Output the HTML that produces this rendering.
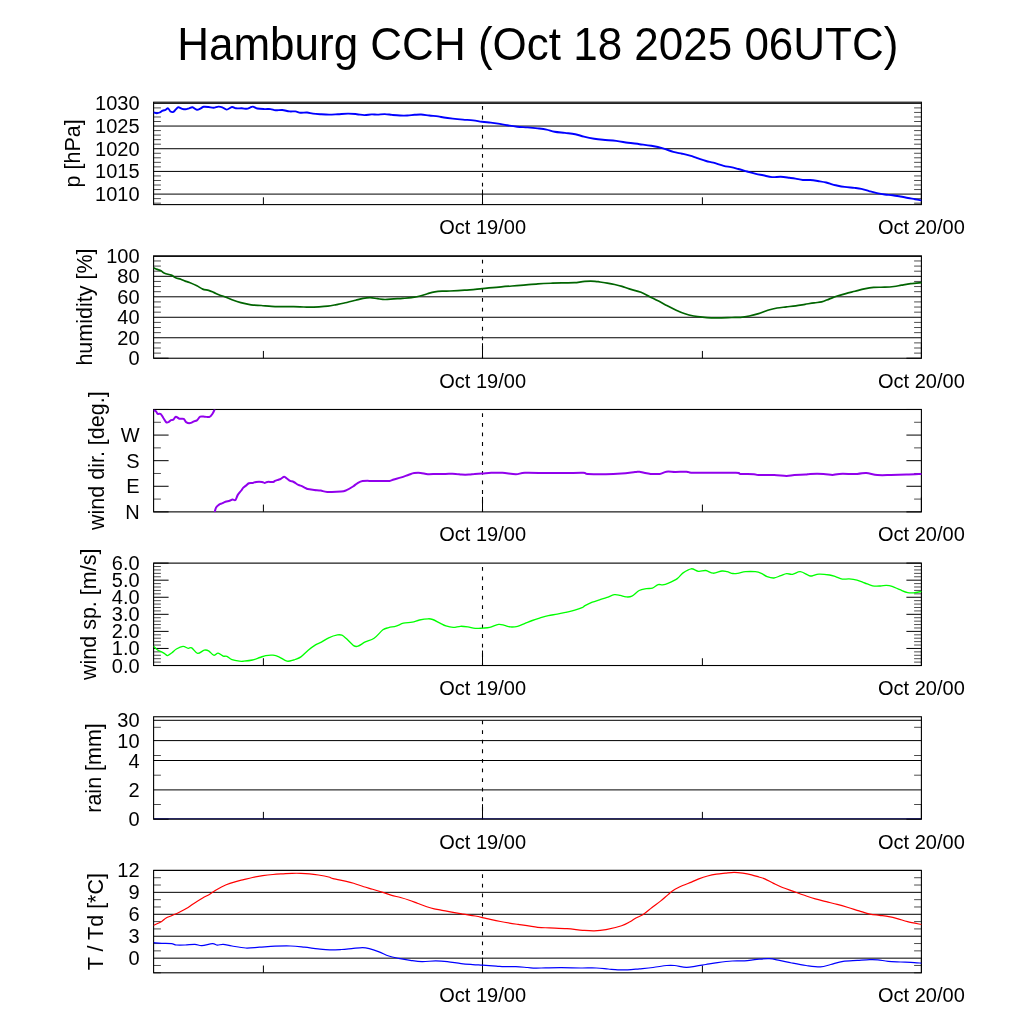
<!DOCTYPE html>
<html><head><meta charset="utf-8"><title>Hamburg CCH meteogram</title>
<style>
html,body{margin:0;padding:0;background:#fff;}
body{width:1024px;height:1024px;overflow:hidden;}
svg{display:block;}
text{font-family:"Liberation Sans", Arial, Helvetica, sans-serif;fill:#000;}
.title{font-size:44px;}
.yl{font-size:21.5px;}
.tl{font-size:20px;}
.b{fill:none;stroke:#000;stroke-width:1.1;}
.g{stroke:#000;stroke-width:1;}
.t{stroke:#000;stroke-width:1;}
.m{stroke:#000;stroke-width:0.7;}
.d{stroke:#000;stroke-width:1.1;stroke-dasharray:3.8 5.8;stroke-dashoffset:1.2;}
.rain{stroke:#000080;stroke-width:1.1;}
</style></head>
<body>
<svg width="1024" height="1024" viewBox="0 0 1024 1024">
<rect width="1024" height="1024" fill="#fff"/>
<defs><clipPath id="c0"><rect x="153.6" y="102.2" width="767.8" height="102.4"/></clipPath><clipPath id="c1"><rect x="153.6" y="255.84" width="767.8" height="102.4"/></clipPath><clipPath id="c2"><rect x="153.6" y="409.48" width="767.8" height="102.4"/></clipPath><clipPath id="c3"><rect x="153.6" y="563.12" width="767.8" height="102.4"/></clipPath><clipPath id="c4"><rect x="153.6" y="716.76" width="767.8" height="102.4"/></clipPath><clipPath id="c5"><rect x="153.6" y="870.4" width="767.8" height="102.4"/></clipPath></defs>
<text class="title" transform="translate(537.8 59.55) scale(1 1.035)" text-anchor="middle">Hamburg CCH (Oct 18 2025 06UTC)</text>
<line class="g" x1="153.6" y1="103.36" x2="921.4" y2="103.36"/>
<line class="g" x1="153.6" y1="126.05" x2="921.4" y2="126.05"/>
<line class="g" x1="153.6" y1="148.73" x2="921.4" y2="148.73"/>
<line class="g" x1="153.6" y1="171.41" x2="921.4" y2="171.41"/>
<line class="g" x1="153.6" y1="194.1" x2="921.4" y2="194.1"/>
<line class="m" x1="153.6" y1="203.17" x2="160.9" y2="203.17"/>
<line class="m" x1="921.4" y1="203.17" x2="914.1" y2="203.17"/>
<line class="m" x1="153.6" y1="198.64" x2="160.9" y2="198.64"/>
<line class="m" x1="921.4" y1="198.64" x2="914.1" y2="198.64"/>
<line class="m" x1="153.6" y1="189.56" x2="160.9" y2="189.56"/>
<line class="m" x1="921.4" y1="189.56" x2="914.1" y2="189.56"/>
<line class="m" x1="153.6" y1="185.03" x2="160.9" y2="185.03"/>
<line class="m" x1="921.4" y1="185.03" x2="914.1" y2="185.03"/>
<line class="m" x1="153.6" y1="180.49" x2="160.9" y2="180.49"/>
<line class="m" x1="921.4" y1="180.49" x2="914.1" y2="180.49"/>
<line class="m" x1="153.6" y1="175.95" x2="160.9" y2="175.95"/>
<line class="m" x1="921.4" y1="175.95" x2="914.1" y2="175.95"/>
<line class="m" x1="153.6" y1="166.88" x2="160.9" y2="166.88"/>
<line class="m" x1="921.4" y1="166.88" x2="914.1" y2="166.88"/>
<line class="m" x1="153.6" y1="162.34" x2="160.9" y2="162.34"/>
<line class="m" x1="921.4" y1="162.34" x2="914.1" y2="162.34"/>
<line class="m" x1="153.6" y1="157.8" x2="160.9" y2="157.8"/>
<line class="m" x1="921.4" y1="157.8" x2="914.1" y2="157.8"/>
<line class="m" x1="153.6" y1="153.27" x2="160.9" y2="153.27"/>
<line class="m" x1="921.4" y1="153.27" x2="914.1" y2="153.27"/>
<line class="m" x1="153.6" y1="144.19" x2="160.9" y2="144.19"/>
<line class="m" x1="921.4" y1="144.19" x2="914.1" y2="144.19"/>
<line class="m" x1="153.6" y1="139.66" x2="160.9" y2="139.66"/>
<line class="m" x1="921.4" y1="139.66" x2="914.1" y2="139.66"/>
<line class="m" x1="153.6" y1="135.12" x2="160.9" y2="135.12"/>
<line class="m" x1="921.4" y1="135.12" x2="914.1" y2="135.12"/>
<line class="m" x1="153.6" y1="130.58" x2="160.9" y2="130.58"/>
<line class="m" x1="921.4" y1="130.58" x2="914.1" y2="130.58"/>
<line class="m" x1="153.6" y1="121.51" x2="160.9" y2="121.51"/>
<line class="m" x1="921.4" y1="121.51" x2="914.1" y2="121.51"/>
<line class="m" x1="153.6" y1="116.97" x2="160.9" y2="116.97"/>
<line class="m" x1="921.4" y1="116.97" x2="914.1" y2="116.97"/>
<line class="m" x1="153.6" y1="112.43" x2="160.9" y2="112.43"/>
<line class="m" x1="921.4" y1="112.43" x2="914.1" y2="112.43"/>
<line class="m" x1="153.6" y1="107.9" x2="160.9" y2="107.9"/>
<line class="m" x1="921.4" y1="107.9" x2="914.1" y2="107.9"/>
<line class="t" x1="263.4" y1="204.6" x2="263.4" y2="197.3"/>
<line class="t" x1="482.5" y1="204.6" x2="482.5" y2="189.6"/>
<line class="t" x1="702.4" y1="204.6" x2="702.4" y2="197.3"/>
<line class="t" x1="921.4" y1="204.6" x2="921.4" y2="189.6"/>
<line class="d" x1="482.5" y1="204.6" x2="482.5" y2="102.2"/>
<rect class="b" x="153.6" y="102.2" width="767.8" height="102.4"/>
<text class="tl" x="139.6" y="110.36" text-anchor="end">1030</text>
<text class="tl" x="139.6" y="133.05" text-anchor="end">1025</text>
<text class="tl" x="139.6" y="155.73" text-anchor="end">1020</text>
<text class="tl" x="139.6" y="178.41" text-anchor="end">1015</text>
<text class="tl" x="139.6" y="201.1" text-anchor="end">1010</text>
<text class="tl" x="482.66" y="234.2" text-anchor="middle">Oct 19/00</text>
<text class="tl" x="921.4" y="234.2" text-anchor="middle">Oct 20/00</text>
<text class="yl" transform="translate(80 153.4) rotate(-90)" text-anchor="middle">p [hPa]</text>
<line class="g" x1="153.6" y1="256.4" x2="921.4" y2="256.4"/>
<line class="g" x1="153.6" y1="276.32" x2="921.4" y2="276.32"/>
<line class="g" x1="153.6" y1="296.8" x2="921.4" y2="296.8"/>
<line class="g" x1="153.6" y1="317.28" x2="921.4" y2="317.28"/>
<line class="g" x1="153.6" y1="337.76" x2="921.4" y2="337.76"/>
<line class="t" x1="153.6" y1="358.24" x2="168.6" y2="358.24"/>
<line class="t" x1="921.4" y1="358.24" x2="906.4" y2="358.24"/>
<line class="m" x1="153.6" y1="353.12" x2="160.9" y2="353.12"/>
<line class="m" x1="921.4" y1="353.12" x2="914.1" y2="353.12"/>
<line class="m" x1="153.6" y1="342.88" x2="160.9" y2="342.88"/>
<line class="m" x1="921.4" y1="342.88" x2="914.1" y2="342.88"/>
<line class="m" x1="153.6" y1="332.64" x2="160.9" y2="332.64"/>
<line class="m" x1="921.4" y1="332.64" x2="914.1" y2="332.64"/>
<line class="m" x1="153.6" y1="322.4" x2="160.9" y2="322.4"/>
<line class="m" x1="921.4" y1="322.4" x2="914.1" y2="322.4"/>
<line class="m" x1="153.6" y1="312.16" x2="160.9" y2="312.16"/>
<line class="m" x1="921.4" y1="312.16" x2="914.1" y2="312.16"/>
<line class="m" x1="153.6" y1="301.92" x2="160.9" y2="301.92"/>
<line class="m" x1="921.4" y1="301.92" x2="914.1" y2="301.92"/>
<line class="m" x1="153.6" y1="291.68" x2="160.9" y2="291.68"/>
<line class="m" x1="921.4" y1="291.68" x2="914.1" y2="291.68"/>
<line class="m" x1="153.6" y1="281.44" x2="160.9" y2="281.44"/>
<line class="m" x1="921.4" y1="281.44" x2="914.1" y2="281.44"/>
<line class="m" x1="153.6" y1="271.2" x2="160.9" y2="271.2"/>
<line class="m" x1="921.4" y1="271.2" x2="914.1" y2="271.2"/>
<line class="m" x1="153.6" y1="260.96" x2="160.9" y2="260.96"/>
<line class="m" x1="921.4" y1="260.96" x2="914.1" y2="260.96"/>
<line class="m" x1="153.6" y1="348" x2="160.9" y2="348"/>
<line class="m" x1="921.4" y1="348" x2="914.1" y2="348"/>
<line class="m" x1="153.6" y1="327.52" x2="160.9" y2="327.52"/>
<line class="m" x1="921.4" y1="327.52" x2="914.1" y2="327.52"/>
<line class="m" x1="153.6" y1="307.04" x2="160.9" y2="307.04"/>
<line class="m" x1="921.4" y1="307.04" x2="914.1" y2="307.04"/>
<line class="m" x1="153.6" y1="286.56" x2="160.9" y2="286.56"/>
<line class="m" x1="921.4" y1="286.56" x2="914.1" y2="286.56"/>
<line class="m" x1="153.6" y1="266.08" x2="160.9" y2="266.08"/>
<line class="m" x1="921.4" y1="266.08" x2="914.1" y2="266.08"/>
<line class="t" x1="263.4" y1="358.24" x2="263.4" y2="350.94"/>
<line class="t" x1="482.5" y1="358.24" x2="482.5" y2="343.24"/>
<line class="t" x1="702.4" y1="358.24" x2="702.4" y2="350.94"/>
<line class="t" x1="921.4" y1="358.24" x2="921.4" y2="343.24"/>
<line class="d" x1="482.5" y1="358.24" x2="482.5" y2="255.84"/>
<rect class="b" x="153.6" y="255.84" width="767.8" height="102.4"/>
<text class="tl" x="139.6" y="262.84" text-anchor="end">100</text>
<text class="tl" x="139.6" y="283.32" text-anchor="end">80</text>
<text class="tl" x="139.6" y="303.8" text-anchor="end">60</text>
<text class="tl" x="139.6" y="324.28" text-anchor="end">40</text>
<text class="tl" x="139.6" y="344.76" text-anchor="end">20</text>
<text class="tl" x="139.6" y="365.24" text-anchor="end">0</text>
<text class="tl" x="482.66" y="387.84" text-anchor="middle">Oct 19/00</text>
<text class="tl" x="921.4" y="387.84" text-anchor="middle">Oct 20/00</text>
<text class="yl" transform="translate(92 307.04) rotate(-90)" text-anchor="middle">humidity [%]</text>
<line class="t" x1="153.6" y1="486.28" x2="168.6" y2="486.28"/>
<line class="t" x1="921.4" y1="486.28" x2="906.4" y2="486.28"/>
<line class="t" x1="153.6" y1="460.68" x2="168.6" y2="460.68"/>
<line class="t" x1="921.4" y1="460.68" x2="906.4" y2="460.68"/>
<line class="t" x1="153.6" y1="435.08" x2="168.6" y2="435.08"/>
<line class="t" x1="921.4" y1="435.08" x2="906.4" y2="435.08"/>
<line class="t" x1="153.6" y1="409.48" x2="168.6" y2="409.48"/>
<line class="t" x1="921.4" y1="409.48" x2="906.4" y2="409.48"/>
<line class="t" x1="153.6" y1="511.88" x2="168.6" y2="511.88"/>
<line class="t" x1="921.4" y1="511.88" x2="906.4" y2="511.88"/>
<line class="m" x1="153.6" y1="499.08" x2="160.9" y2="499.08"/>
<line class="m" x1="921.4" y1="499.08" x2="914.1" y2="499.08"/>
<line class="m" x1="153.6" y1="473.48" x2="160.9" y2="473.48"/>
<line class="m" x1="921.4" y1="473.48" x2="914.1" y2="473.48"/>
<line class="m" x1="153.6" y1="447.88" x2="160.9" y2="447.88"/>
<line class="m" x1="921.4" y1="447.88" x2="914.1" y2="447.88"/>
<line class="m" x1="153.6" y1="422.28" x2="160.9" y2="422.28"/>
<line class="m" x1="921.4" y1="422.28" x2="914.1" y2="422.28"/>
<line class="t" x1="263.4" y1="511.88" x2="263.4" y2="504.58"/>
<line class="t" x1="482.5" y1="511.88" x2="482.5" y2="496.88"/>
<line class="t" x1="702.4" y1="511.88" x2="702.4" y2="504.58"/>
<line class="t" x1="921.4" y1="511.88" x2="921.4" y2="496.88"/>
<line class="d" x1="482.5" y1="511.88" x2="482.5" y2="409.48"/>
<rect class="b" x="153.6" y="409.48" width="767.8" height="102.4"/>
<text class="tl" x="139.6" y="442.08" text-anchor="end">W</text>
<text class="tl" x="139.6" y="467.68" text-anchor="end">S</text>
<text class="tl" x="139.6" y="493.28" text-anchor="end">E</text>
<text class="tl" x="139.6" y="518.88" text-anchor="end">N</text>
<text class="tl" x="482.66" y="541.48" text-anchor="middle">Oct 19/00</text>
<text class="tl" x="921.4" y="541.48" text-anchor="middle">Oct 20/00</text>
<text class="yl" transform="translate(104 460.68) rotate(-90)" text-anchor="middle">wind dir. [deg.]</text>
<line class="t" x1="153.6" y1="665.52" x2="168.6" y2="665.52"/>
<line class="t" x1="921.4" y1="665.52" x2="906.4" y2="665.52"/>
<line class="t" x1="153.6" y1="648.45" x2="168.6" y2="648.45"/>
<line class="t" x1="921.4" y1="648.45" x2="906.4" y2="648.45"/>
<line class="t" x1="153.6" y1="631.39" x2="168.6" y2="631.39"/>
<line class="t" x1="921.4" y1="631.39" x2="906.4" y2="631.39"/>
<line class="t" x1="153.6" y1="614.32" x2="168.6" y2="614.32"/>
<line class="t" x1="921.4" y1="614.32" x2="906.4" y2="614.32"/>
<line class="t" x1="153.6" y1="597.25" x2="168.6" y2="597.25"/>
<line class="t" x1="921.4" y1="597.25" x2="906.4" y2="597.25"/>
<line class="t" x1="153.6" y1="580.18" x2="168.6" y2="580.18"/>
<line class="t" x1="921.4" y1="580.18" x2="906.4" y2="580.18"/>
<line class="t" x1="153.6" y1="563.12" x2="168.6" y2="563.12"/>
<line class="t" x1="921.4" y1="563.12" x2="906.4" y2="563.12"/>
<line class="m" x1="153.6" y1="662.11" x2="160.9" y2="662.11"/>
<line class="m" x1="921.4" y1="662.11" x2="914.1" y2="662.11"/>
<line class="m" x1="153.6" y1="658.69" x2="160.9" y2="658.69"/>
<line class="m" x1="921.4" y1="658.69" x2="914.1" y2="658.69"/>
<line class="m" x1="153.6" y1="655.28" x2="160.9" y2="655.28"/>
<line class="m" x1="921.4" y1="655.28" x2="914.1" y2="655.28"/>
<line class="m" x1="153.6" y1="651.87" x2="160.9" y2="651.87"/>
<line class="m" x1="921.4" y1="651.87" x2="914.1" y2="651.87"/>
<line class="m" x1="153.6" y1="645.04" x2="160.9" y2="645.04"/>
<line class="m" x1="921.4" y1="645.04" x2="914.1" y2="645.04"/>
<line class="m" x1="153.6" y1="641.63" x2="160.9" y2="641.63"/>
<line class="m" x1="921.4" y1="641.63" x2="914.1" y2="641.63"/>
<line class="m" x1="153.6" y1="638.21" x2="160.9" y2="638.21"/>
<line class="m" x1="921.4" y1="638.21" x2="914.1" y2="638.21"/>
<line class="m" x1="153.6" y1="634.8" x2="160.9" y2="634.8"/>
<line class="m" x1="921.4" y1="634.8" x2="914.1" y2="634.8"/>
<line class="m" x1="153.6" y1="627.97" x2="160.9" y2="627.97"/>
<line class="m" x1="921.4" y1="627.97" x2="914.1" y2="627.97"/>
<line class="m" x1="153.6" y1="624.56" x2="160.9" y2="624.56"/>
<line class="m" x1="921.4" y1="624.56" x2="914.1" y2="624.56"/>
<line class="m" x1="153.6" y1="621.15" x2="160.9" y2="621.15"/>
<line class="m" x1="921.4" y1="621.15" x2="914.1" y2="621.15"/>
<line class="m" x1="153.6" y1="617.73" x2="160.9" y2="617.73"/>
<line class="m" x1="921.4" y1="617.73" x2="914.1" y2="617.73"/>
<line class="m" x1="153.6" y1="610.91" x2="160.9" y2="610.91"/>
<line class="m" x1="921.4" y1="610.91" x2="914.1" y2="610.91"/>
<line class="m" x1="153.6" y1="607.49" x2="160.9" y2="607.49"/>
<line class="m" x1="921.4" y1="607.49" x2="914.1" y2="607.49"/>
<line class="m" x1="153.6" y1="604.08" x2="160.9" y2="604.08"/>
<line class="m" x1="921.4" y1="604.08" x2="914.1" y2="604.08"/>
<line class="m" x1="153.6" y1="600.67" x2="160.9" y2="600.67"/>
<line class="m" x1="921.4" y1="600.67" x2="914.1" y2="600.67"/>
<line class="m" x1="153.6" y1="593.84" x2="160.9" y2="593.84"/>
<line class="m" x1="921.4" y1="593.84" x2="914.1" y2="593.84"/>
<line class="m" x1="153.6" y1="590.43" x2="160.9" y2="590.43"/>
<line class="m" x1="921.4" y1="590.43" x2="914.1" y2="590.43"/>
<line class="m" x1="153.6" y1="587.01" x2="160.9" y2="587.01"/>
<line class="m" x1="921.4" y1="587.01" x2="914.1" y2="587.01"/>
<line class="m" x1="153.6" y1="583.6" x2="160.9" y2="583.6"/>
<line class="m" x1="921.4" y1="583.6" x2="914.1" y2="583.6"/>
<line class="m" x1="153.6" y1="576.77" x2="160.9" y2="576.77"/>
<line class="m" x1="921.4" y1="576.77" x2="914.1" y2="576.77"/>
<line class="m" x1="153.6" y1="573.36" x2="160.9" y2="573.36"/>
<line class="m" x1="921.4" y1="573.36" x2="914.1" y2="573.36"/>
<line class="m" x1="153.6" y1="569.94" x2="160.9" y2="569.94"/>
<line class="m" x1="921.4" y1="569.94" x2="914.1" y2="569.94"/>
<line class="m" x1="153.6" y1="566.53" x2="160.9" y2="566.53"/>
<line class="m" x1="921.4" y1="566.53" x2="914.1" y2="566.53"/>
<line class="t" x1="263.4" y1="665.52" x2="263.4" y2="658.22"/>
<line class="t" x1="482.5" y1="665.52" x2="482.5" y2="650.52"/>
<line class="t" x1="702.4" y1="665.52" x2="702.4" y2="658.22"/>
<line class="t" x1="921.4" y1="665.52" x2="921.4" y2="650.52"/>
<line class="d" x1="482.5" y1="665.52" x2="482.5" y2="563.12"/>
<rect class="b" x="153.6" y="563.12" width="767.8" height="102.4"/>
<text class="tl" x="139.6" y="570.12" text-anchor="end">6.0</text>
<text class="tl" x="139.6" y="587.18" text-anchor="end">5.0</text>
<text class="tl" x="139.6" y="604.25" text-anchor="end">4.0</text>
<text class="tl" x="139.6" y="621.32" text-anchor="end">3.0</text>
<text class="tl" x="139.6" y="638.39" text-anchor="end">2.0</text>
<text class="tl" x="139.6" y="655.45" text-anchor="end">1.0</text>
<text class="tl" x="139.6" y="672.52" text-anchor="end">0.0</text>
<text class="tl" x="482.66" y="695.12" text-anchor="middle">Oct 19/00</text>
<text class="tl" x="921.4" y="695.12" text-anchor="middle">Oct 20/00</text>
<text class="yl" transform="translate(96 614.32) rotate(-90)" text-anchor="middle">wind sp. [m/s]</text>
<line class="g" x1="153.6" y1="720.3" x2="921.4" y2="720.3"/>
<line class="g" x1="153.6" y1="740.6" x2="921.4" y2="740.6"/>
<line class="g" x1="153.6" y1="760.5" x2="921.4" y2="760.5"/>
<line class="g" x1="153.6" y1="789.9" x2="921.4" y2="789.9"/>
<line class="t" x1="153.6" y1="819.16" x2="168.6" y2="819.16"/>
<line class="t" x1="921.4" y1="819.16" x2="906.4" y2="819.16"/>
<line class="m" x1="153.6" y1="727.3" x2="160.9" y2="727.3"/>
<line class="m" x1="921.4" y1="727.3" x2="914.1" y2="727.3"/>
<line class="m" x1="153.6" y1="755.5" x2="160.9" y2="755.5"/>
<line class="m" x1="921.4" y1="755.5" x2="914.1" y2="755.5"/>
<line class="m" x1="153.6" y1="775.2" x2="160.9" y2="775.2"/>
<line class="m" x1="921.4" y1="775.2" x2="914.1" y2="775.2"/>
<line class="m" x1="153.6" y1="804.5" x2="160.9" y2="804.5"/>
<line class="m" x1="921.4" y1="804.5" x2="914.1" y2="804.5"/>
<line class="t" x1="263.4" y1="819.16" x2="263.4" y2="811.86"/>
<line class="t" x1="482.5" y1="819.16" x2="482.5" y2="804.16"/>
<line class="t" x1="702.4" y1="819.16" x2="702.4" y2="811.86"/>
<line class="t" x1="921.4" y1="819.16" x2="921.4" y2="804.16"/>
<line class="d" x1="482.5" y1="819.16" x2="482.5" y2="716.76"/>
<line class="rain" x1="153.6" y1="818.7" x2="921.4" y2="818.7"/>
<rect class="b" x="153.6" y="716.76" width="767.8" height="102.4"/>
<text class="tl" x="139.6" y="727.3" text-anchor="end">30</text>
<text class="tl" x="139.6" y="747.6" text-anchor="end">10</text>
<text class="tl" x="139.6" y="767.5" text-anchor="end">4</text>
<text class="tl" x="139.6" y="796.9" text-anchor="end">2</text>
<text class="tl" x="139.6" y="826.16" text-anchor="end">0</text>
<text class="tl" x="482.66" y="848.76" text-anchor="middle">Oct 19/00</text>
<text class="tl" x="921.4" y="848.76" text-anchor="middle">Oct 20/00</text>
<text class="yl" transform="translate(101 767.96) rotate(-90)" text-anchor="middle">rain [mm]</text>
<line class="g" x1="153.6" y1="870.4" x2="921.4" y2="870.4"/>
<line class="g" x1="153.6" y1="892.34" x2="921.4" y2="892.34"/>
<line class="g" x1="153.6" y1="914.29" x2="921.4" y2="914.29"/>
<line class="g" x1="153.6" y1="936.23" x2="921.4" y2="936.23"/>
<line class="g" x1="153.6" y1="958.17" x2="921.4" y2="958.17"/>
<line class="m" x1="153.6" y1="972.8" x2="160.9" y2="972.8"/>
<line class="m" x1="921.4" y1="972.8" x2="914.1" y2="972.8"/>
<line class="m" x1="153.6" y1="965.48" x2="160.9" y2="965.48"/>
<line class="m" x1="921.4" y1="965.48" x2="914.1" y2="965.48"/>
<line class="m" x1="153.6" y1="950.86" x2="160.9" y2="950.86"/>
<line class="m" x1="921.4" y1="950.86" x2="914.1" y2="950.86"/>
<line class="m" x1="153.6" y1="943.54" x2="160.9" y2="943.54"/>
<line class="m" x1="921.4" y1="943.54" x2="914.1" y2="943.54"/>
<line class="m" x1="153.6" y1="928.91" x2="160.9" y2="928.91"/>
<line class="m" x1="921.4" y1="928.91" x2="914.1" y2="928.91"/>
<line class="m" x1="153.6" y1="921.6" x2="160.9" y2="921.6"/>
<line class="m" x1="921.4" y1="921.6" x2="914.1" y2="921.6"/>
<line class="m" x1="153.6" y1="906.97" x2="160.9" y2="906.97"/>
<line class="m" x1="921.4" y1="906.97" x2="914.1" y2="906.97"/>
<line class="m" x1="153.6" y1="899.66" x2="160.9" y2="899.66"/>
<line class="m" x1="921.4" y1="899.66" x2="914.1" y2="899.66"/>
<line class="m" x1="153.6" y1="885.03" x2="160.9" y2="885.03"/>
<line class="m" x1="921.4" y1="885.03" x2="914.1" y2="885.03"/>
<line class="m" x1="153.6" y1="877.72" x2="160.9" y2="877.72"/>
<line class="m" x1="921.4" y1="877.72" x2="914.1" y2="877.72"/>
<line class="t" x1="263.4" y1="972.8" x2="263.4" y2="965.5"/>
<line class="t" x1="482.5" y1="972.8" x2="482.5" y2="957.8"/>
<line class="t" x1="702.4" y1="972.8" x2="702.4" y2="965.5"/>
<line class="t" x1="921.4" y1="972.8" x2="921.4" y2="957.8"/>
<line class="d" x1="482.5" y1="972.8" x2="482.5" y2="870.4"/>
<rect class="b" x="153.6" y="870.4" width="767.8" height="102.4"/>
<text class="tl" x="139.6" y="877.4" text-anchor="end">12</text>
<text class="tl" x="139.6" y="899.34" text-anchor="end">9</text>
<text class="tl" x="139.6" y="921.29" text-anchor="end">6</text>
<text class="tl" x="139.6" y="943.23" text-anchor="end">3</text>
<text class="tl" x="139.6" y="965.17" text-anchor="end">0</text>
<text class="tl" x="482.66" y="1002.4" text-anchor="middle">Oct 19/00</text>
<text class="tl" x="921.4" y="1002.4" text-anchor="middle">Oct 20/00</text>
<text class="yl" transform="translate(102.5 921.6) rotate(-90)" text-anchor="middle">T / Td [*C]</text>
<g clip-path="url(#c0)"><path fill="none" stroke="#0000ff" stroke-width="1.9" stroke-linejoin="round" stroke-linecap="round" d="M153.7 112.5C154.22 112.62 155.78 113.2 156.8 113.2C157.82 113.2 158.82 112.92 159.8 112.5C160.78 112.08 161.73 111.15 162.7 110.7C163.67 110.25 164.7 110.2 165.6 109.8C166.5 109.4 167.28 108.02 168.1 108.3C168.92 108.58 169.62 110.9 170.5 111.5C171.38 112.1 172.5 112.27 173.4 111.9C174.3 111.53 175.08 110.07 175.9 109.3C176.72 108.53 177.25 107.38 178.3 107.3C179.35 107.22 180.98 108.47 182.2 108.8C183.42 109.13 184.45 109.38 185.6 109.3C186.75 109.22 187.95 108.63 189.1 108.3C190.25 107.97 191.2 107.05 192.5 107.3C193.8 107.55 195.52 109.63 196.9 109.8C198.28 109.97 199.67 108.8 200.8 108.3C201.93 107.8 202.4 107.02 203.7 106.8C205 106.58 206.97 106.83 208.6 107C210.23 107.17 211.87 107.87 213.5 107.8C215.13 107.73 216.93 106.68 218.4 106.6C219.87 106.52 220.92 106.8 222.3 107.3C223.68 107.8 225.08 109.65 226.7 109.6C228.32 109.55 230.47 107.22 232 107C233.53 106.78 234.27 108.08 235.9 108.3C237.53 108.52 240 108.22 241.8 108.3C243.6 108.38 245.33 108.92 246.7 108.8C248.07 108.68 248.97 107.97 250 107.6C251.03 107.23 251.68 106.45 252.9 106.6C254.12 106.75 255.35 108.08 257.3 108.5C259.25 108.92 262.4 109 264.6 109.1C266.8 109.2 268.67 108.9 270.5 109.1C272.33 109.3 273.65 110.15 275.6 110.3C277.55 110.45 279.88 109.82 282.2 110C284.52 110.18 287.3 111.17 289.5 111.4C291.7 111.63 293.57 111.18 295.4 111.4C297.23 111.62 298.55 112.52 300.5 112.7C302.45 112.88 305.02 112.35 307.1 112.5C309.18 112.65 310.8 113.32 313 113.6C315.2 113.88 317.62 114.03 320.3 114.2C322.98 114.37 326.17 114.6 329.1 114.6C332.03 114.6 334.73 114.37 337.9 114.2C341.07 114.03 344.93 113.6 348.1 113.6C351.27 113.6 354.2 113.95 356.9 114.2C359.6 114.45 361.85 115.07 364.3 115.1C366.75 115.13 369.42 114.48 371.6 114.4C373.78 114.32 375.2 114.65 377.4 114.6C379.6 114.55 382.35 114.05 384.8 114.1C387.25 114.15 389.57 114.67 392.1 114.9C394.63 115.13 397.47 115.4 400 115.5C402.53 115.6 404.87 115.62 407.3 115.5C409.73 115.38 412.28 114.97 414.6 114.8C416.92 114.63 418.75 114.38 421.2 114.5C423.65 114.62 426.48 115.18 429.3 115.5C432.12 115.82 435.67 116.07 438.1 116.4C440.53 116.73 441.47 117.13 443.9 117.5C446.33 117.87 449.52 118.25 452.7 118.6C455.88 118.95 459.58 119.3 463 119.6C466.42 119.9 470.03 120.03 473.2 120.4C476.37 120.77 479.07 121.43 482 121.8C484.93 122.17 488.12 122.3 490.8 122.6C493.48 122.9 495.42 123.17 498.1 123.6C500.78 124.03 503.72 124.68 506.9 125.2C510.08 125.72 513.78 126.33 517.2 126.7C520.62 127.07 523.98 127.12 527.4 127.4C530.82 127.68 534.52 128.03 537.7 128.4C540.88 128.77 543.68 129.05 546.5 129.6C549.32 130.15 551.53 131.15 554.6 131.7C557.67 132.25 561.47 132.48 564.9 132.9C568.33 133.32 572.03 133.58 575.2 134.2C578.37 134.82 580.73 135.85 583.9 136.6C587.07 137.35 591.02 138.17 594.2 138.7C597.38 139.23 599.33 139.43 603 139.8C606.67 140.17 612.05 140.42 616.2 140.9C620.35 141.38 624 142.15 627.9 142.7C631.8 143.25 635.7 143.68 639.6 144.2C643.5 144.72 647.4 145.12 651.3 145.8C655.2 146.48 659.33 147.28 663 148.3C666.67 149.32 670.12 151 673.3 151.9C676.48 152.8 679.32 153.08 682.1 153.7C684.88 154.32 687.47 154.87 690 155.6C692.53 156.33 694.62 157.2 697.3 158.1C699.98 159 703.42 160.23 706.1 161C708.78 161.77 710.47 161.9 713.4 162.7C716.33 163.5 720.77 165.07 723.7 165.8C726.63 166.53 728.57 166.57 731 167.1C733.43 167.63 735.62 168.27 738.3 169C740.98 169.73 744.17 170.68 747.1 171.5C750.03 172.32 753.22 173.27 755.9 173.9C758.58 174.53 760.52 174.77 763.2 175.3C765.88 175.83 769.07 176.85 772 177.1C774.93 177.35 777.87 176.68 780.8 176.8C783.73 176.92 787.15 177.5 789.6 177.8C792.05 178.1 793.3 178.23 795.5 178.6C797.7 178.97 800.37 179.77 802.8 180C805.23 180.23 807.42 179.8 810.1 180C812.78 180.2 816.22 180.78 818.9 181.2C821.58 181.62 824 181.97 826.2 182.5C828.4 183.03 830.48 183.93 832.1 184.4C833.72 184.87 833.82 184.88 835.9 185.3C837.98 185.72 841.52 186.47 844.6 186.9C847.68 187.33 851.62 187.57 854.4 187.9C857.18 188.23 858.85 188.37 861.3 188.9C863.75 189.43 866.5 190.4 869.1 191.1C871.7 191.8 874.3 192.53 876.9 193.1C879.5 193.67 882.1 194.15 884.7 194.5C887.3 194.85 889.9 194.87 892.5 195.2C895.1 195.53 897.7 196.03 900.3 196.5C902.9 196.97 905.65 197.55 908.1 198C910.55 198.45 912.8 198.8 915 199.2C917.2 199.6 920.25 200.2 921.3 200.4"/></g>
<g clip-path="url(#c1)"><path fill="none" stroke="#006400" stroke-width="1.7" stroke-linejoin="round" stroke-linecap="round" d="M153.7 267.9C154.3 268.15 156.08 268.92 157.3 269.4C158.52 269.88 159.78 270.15 161 270.8C162.22 271.45 162.9 272.58 164.6 273.3C166.3 274.02 169.37 274.37 171.2 275.1C173.03 275.83 174 277.02 175.6 277.7C177.2 278.38 179.2 278.63 180.8 279.2C182.4 279.77 183.75 280.55 185.2 281.1C186.65 281.65 187.55 281.72 189.5 282.5C191.45 283.28 194.7 284.7 196.9 285.8C199.1 286.9 200.75 288.33 202.7 289.1C204.65 289.87 206.77 289.85 208.6 290.4C210.43 290.95 212 291.67 213.7 292.4C215.4 293.13 216.97 294.08 218.8 294.8C220.63 295.52 222.5 295.88 224.7 296.7C226.9 297.52 229.32 298.72 232 299.7C234.68 300.68 237.62 301.75 240.8 302.6C243.98 303.45 247.68 304.32 251.1 304.8C254.52 305.28 257.88 305.25 261.3 305.5C264.72 305.75 268.18 306.12 271.6 306.3C275.02 306.48 278.63 306.53 281.8 306.6C284.97 306.67 287.57 306.67 290.6 306.7C293.63 306.73 296.97 306.72 300 306.8C303.03 306.88 305.63 307.18 308.8 307.2C311.97 307.22 315.83 307.07 319 306.9C322.17 306.73 324.87 306.58 327.8 306.2C330.73 305.82 333.42 305.22 336.6 304.6C339.78 303.98 343.72 303.23 346.9 302.5C350.08 301.77 353.02 300.88 355.7 300.2C358.38 299.52 360.57 298.82 363 298.4C365.43 297.98 367.87 297.65 370.3 297.7C372.73 297.75 375.15 298.4 377.6 298.7C380.05 299 382.32 299.47 385 299.5C387.68 299.53 390.78 299.08 393.7 298.9C396.62 298.72 399.57 298.6 402.5 298.4C405.43 298.2 408.37 298.1 411.3 297.7C414.23 297.3 417.42 296.67 420.1 296C422.78 295.33 424.95 294.4 427.4 293.7C429.85 293 432.35 292.23 434.8 291.8C437.25 291.37 439.57 291.23 442.1 291.1C444.63 290.97 446.25 291.15 450 291C453.75 290.85 459.23 290.6 464.6 290.2C469.97 289.8 476.08 289.17 482.2 288.6C488.32 288.03 494.95 287.33 501.3 286.8C507.65 286.27 514.2 285.88 520.3 285.4C526.4 284.92 532.53 284.27 537.9 283.9C543.27 283.53 548.1 283.37 552.5 283.2C556.9 283.03 560.63 282.98 564.3 282.9C567.97 282.82 571.08 282.95 574.5 282.7C577.92 282.45 581.38 281.63 584.8 281.4C588.22 281.17 592.47 281.2 595 281.3C597.53 281.4 597.95 281.7 600 282C602.05 282.3 604.87 282.68 607.3 283.1C609.73 283.52 612.15 283.95 614.6 284.5C617.05 285.05 619.55 285.67 622 286.4C624.45 287.13 626.13 287.92 629.3 288.9C632.47 289.88 637.58 291 641 292.3C644.42 293.6 646.87 295.23 649.8 296.7C652.73 298.17 655.67 299.58 658.6 301.1C661.53 302.62 664.47 304.28 667.4 305.8C670.33 307.32 673.27 308.87 676.2 310.2C679.13 311.53 682.08 312.83 685 313.8C687.92 314.77 690.78 315.43 693.7 316C696.62 316.57 699.57 316.9 702.5 317.2C705.43 317.5 708.12 317.7 711.3 317.8C714.48 317.9 718.18 317.85 721.6 317.8C725.02 317.75 728.63 317.58 731.8 317.5C734.97 317.42 737.68 317.55 740.6 317.3C743.52 317.05 746.3 316.62 749.3 316C752.3 315.38 755.52 314.55 758.6 313.6C761.68 312.65 764.72 311.23 767.8 310.3C770.88 309.37 774 308.57 777.1 308C780.2 307.43 783.3 307.27 786.4 306.9C789.5 306.53 792.6 306.23 795.7 305.8C798.8 305.37 801.92 304.8 805 304.3C808.08 303.8 811.43 303.2 814.2 302.8C816.97 302.4 819.12 302.52 821.6 301.9C824.08 301.28 826.62 300.03 829.1 299.1C831.58 298.17 833.72 297.22 836.5 296.3C839.28 295.38 842.72 294.43 845.8 293.6C848.88 292.77 851.92 292.08 855 291.3C858.08 290.52 861.2 289.55 864.3 288.9C867.4 288.25 870.2 287.68 873.6 287.4C877 287.12 881.3 287.35 884.7 287.2C888.1 287.05 891.22 286.83 894 286.5C896.78 286.17 898.62 285.67 901.4 285.2C904.18 284.73 907.37 284.12 910.7 283.7C914.03 283.28 919.62 282.87 921.4 282.7"/></g>
<g clip-path="url(#c2)"><path fill="none" stroke="#9100ec" stroke-width="2" stroke-linejoin="round" stroke-linecap="round" d="M153.9 410.4C154.23 410.55 155.25 410.73 155.9 411.3C156.55 411.87 157 413.35 157.8 413.8C158.6 414.25 159.8 413.35 160.7 414C161.6 414.65 162.3 416.35 163.2 417.7C164.1 419.05 165.2 421.37 166.1 422.1C167 422.83 167.78 422.43 168.6 422.1C169.42 421.77 170.2 420.52 171 420.1C171.8 419.68 172.58 420.17 173.4 419.6C174.22 419.03 174.92 416.85 175.9 416.7C176.88 416.55 178 418.33 179.3 418.7C180.6 419.07 182.57 418.33 183.7 418.9C184.83 419.47 185.05 421.4 186.1 422.1C187.15 422.8 188.7 423.22 190 423.1C191.3 422.98 192.75 421.85 193.9 421.4C195.05 420.95 195.83 421.18 196.9 420.4C197.97 419.62 199 417.32 200.3 416.7C201.6 416.08 203.15 416.67 204.7 416.7C206.25 416.73 208.3 417.38 209.6 416.9C210.9 416.42 211.68 415 212.5 413.8C213.32 412.6 214.17 410.38 214.5 409.7"/><path fill="none" stroke="#9100ec" stroke-width="2" stroke-linejoin="round" stroke-linecap="round" d="M214.7 512.2C214.93 511.42 215.37 508.77 216.1 507.5C216.83 506.23 218.12 505.28 219.1 504.6C220.08 503.92 220.93 503.87 222 503.4C223.07 502.93 224.23 502.23 225.5 501.8C226.77 501.37 228.43 501.17 229.6 500.8C230.77 500.43 231.52 499.75 232.5 499.6C233.48 499.45 234.62 500.68 235.5 499.9C236.38 499.12 236.83 496.47 237.8 494.9C238.77 493.33 240.42 491.67 241.3 490.5C242.18 489.33 242.32 488.72 243.1 487.9C243.88 487.08 245.03 486.38 246 485.6C246.97 484.82 247.73 483.65 248.9 483.2C250.07 482.75 251.82 483.12 253 482.9C254.18 482.68 254.5 482.07 256 481.9C257.5 481.73 260.55 481.73 262 481.9C263.45 482.07 263.82 482.9 264.7 482.9C265.58 482.9 265.88 482.07 267.3 481.9C268.72 481.73 271.93 482.08 273.2 481.9C274.47 481.72 274.03 481.17 274.9 480.8C275.77 480.43 277.42 480.03 278.4 479.7C279.38 479.37 279.82 479.3 280.8 478.8C281.78 478.3 283.23 476.7 284.3 476.7C285.37 476.7 286.23 478.12 287.2 478.8C288.17 479.48 289.02 480.27 290.1 480.8C291.18 481.33 292.32 481.32 293.7 482C295.08 482.68 297.03 484.22 298.4 484.9C299.77 485.58 300.73 485.6 301.9 486.1C303.07 486.6 304.43 487.42 305.4 487.9C306.37 488.38 306.22 488.67 307.7 489C309.18 489.33 312.13 489.63 314.3 489.9C316.47 490.17 318.55 490.27 320.7 490.6C322.85 490.93 323.8 491.73 327.2 491.9C330.6 492.07 337.88 491.88 341.1 491.6C344.32 491.32 344.52 491.05 346.5 490.2C348.48 489.35 351.2 487.65 353 486.5C354.8 485.35 355.7 484.2 357.3 483.3C358.9 482.4 360.12 481.5 362.6 481.1C365.08 480.7 369.13 480.93 372.2 480.9C375.27 480.87 378.12 480.9 381 480.9C383.88 480.9 387.37 481.13 389.5 480.9C391.63 480.67 391.83 480.08 393.8 479.5C395.77 478.92 398.8 478.2 401.3 477.4C403.8 476.6 406.65 475.42 408.8 474.7C410.95 473.98 412.23 473.4 414.2 473.1C416.17 472.8 418.32 472.72 420.6 472.9C422.88 473.08 425.22 474.03 427.9 474.2C430.58 474.37 433.77 473.95 436.7 473.9C439.63 473.85 442.33 473.9 445.5 473.9C448.67 473.9 453.02 473.78 455.7 473.9C458.38 474.02 459.4 474.48 461.6 474.6C463.8 474.72 466.7 474.72 468.9 474.6C471.1 474.48 472.6 474.07 474.8 473.9C477 473.73 479.37 473.78 482.1 473.6C484.83 473.42 487.8 472.93 491.2 472.8C494.6 472.67 498.38 472.57 502.5 472.8C506.62 473.03 512.17 474.2 515.9 474.2C519.63 474.2 519.65 473 524.9 472.8C530.15 472.6 540.65 472.97 547.4 473C554.15 473.03 559.42 473.03 565.4 473C571.38 472.97 579.57 472.65 583.3 472.8C587.03 472.95 584.05 473.67 587.8 473.9C591.55 474.13 600.18 474.27 605.8 474.2C611.42 474.13 616.63 473.85 621.5 473.5C626.37 473.15 632 472.4 635 472.1C638 471.8 638 471.58 639.5 471.7C641 471.82 642.13 472.43 644 472.8C645.87 473.17 648.08 473.72 650.7 473.9C653.32 474.08 657.08 474.27 659.7 473.9C662.32 473.53 663.78 472.03 666.4 471.7C669.02 471.37 672.03 471.9 675.4 471.9C678.77 471.9 683.98 471.55 686.6 471.7C689.22 471.85 688.1 472.62 691.1 472.8C694.1 472.98 697.13 472.8 704.6 472.8C712.07 472.8 729.93 472.62 735.9 472.8C741.87 472.98 737.4 473.67 740.4 473.9C743.4 474.13 750.9 474.02 753.9 474.2C756.9 474.38 755.03 474.87 758.4 475C761.77 475.13 769.42 474.85 774.1 475C778.78 475.15 783.13 475.9 786.5 475.9C789.87 475.9 791.12 475.22 794.3 475C797.48 474.78 802.97 474.78 805.6 474.6C808.23 474.42 807.12 474.02 810.1 473.9C813.08 473.78 819.77 473.72 823.5 473.9C827.23 474.08 829.87 475 832.5 475C835.13 475 835.18 474.08 839.3 473.9C843.42 473.72 852.72 474.05 857.2 473.9C861.68 473.75 862.83 472.82 866.2 473C869.57 473.18 873.28 474.67 877.4 475C881.52 475.33 886.03 475.07 890.9 475C895.77 474.93 901.53 474.78 906.6 474.6C911.67 474.42 918.85 474.02 921.3 473.9"/></g>
<g clip-path="url(#c3)"><path fill="none" stroke="#00ff00" stroke-width="1.35" stroke-linejoin="round" stroke-linecap="round" d="M153.7 646.4C154.3 646.97 156.08 648.92 157.3 649.8C158.52 650.68 159.78 651.05 161 651.7C162.22 652.35 163.5 653.05 164.6 653.7C165.7 654.35 166.37 655.77 167.6 655.6C168.83 655.43 170.53 653.8 172 652.7C173.47 651.6 174.57 650.05 176.4 649C178.23 647.95 181.05 646.52 183 646.4C184.95 646.28 186.65 648.05 188.1 648.3C189.55 648.55 190.12 647.05 191.7 647.9C193.28 648.75 195.52 653.02 197.6 653.4C199.68 653.78 202.37 650.63 204.2 650.2C206.03 649.77 207.02 649.97 208.6 650.8C210.18 651.63 212.12 654.82 213.7 655.2C215.28 655.58 216.52 652.95 218.1 653.1C219.68 653.25 221.73 655.55 223.2 656.1C224.67 656.65 225.43 655.8 226.9 656.4C228.37 657 229.92 658.9 232 659.7C234.08 660.5 237.45 660.95 239.4 661.2C241.35 661.45 241.52 661.4 243.7 661.2C245.88 661 249.8 660.62 252.5 660C255.2 659.38 257.7 658.23 259.9 657.5C262.1 656.77 263.52 655.98 265.7 655.6C267.88 655.22 270.8 655 273 655.2C275.2 655.4 276.57 655.82 278.9 656.8C281.23 657.78 284.57 660.57 287 661.1C289.43 661.63 292.17 660.27 293.5 660C294.83 659.73 293.77 660.02 295 659.5C296.23 658.98 298.7 658.43 300.9 656.9C303.1 655.37 305.77 652.3 308.2 650.3C310.63 648.3 313.3 646.25 315.5 644.9C317.7 643.55 319.2 643.38 321.4 642.2C323.6 641.02 326.02 639.02 328.7 637.8C331.38 636.58 335.3 635.33 337.5 634.9C339.7 634.47 340.43 634.58 341.9 635.2C343.37 635.82 344.35 636.87 346.3 638.6C348.25 640.33 351.65 644.33 353.6 645.6C355.55 646.87 356.05 646.82 358 646.2C359.95 645.58 362.62 643.22 365.3 641.9C367.98 640.58 371.17 640.32 374.1 638.3C377.03 636.28 380.47 631.58 382.9 629.8C385.33 628.02 386.5 628.22 388.7 627.6C390.9 626.98 393.65 626.83 396.1 626.1C398.55 625.37 400.72 623.85 403.4 623.2C406.08 622.55 409.52 622.73 412.2 622.2C414.88 621.67 416.82 620.57 419.5 620C422.18 619.43 426.1 618.88 428.3 618.8C430.5 618.72 430.75 618.78 432.7 619.5C434.65 620.22 437.8 622.03 440 623.1C442.2 624.17 443.7 625.18 445.9 625.9C448.1 626.62 450.77 627.33 453.2 627.4C455.63 627.47 458.07 626.38 460.5 626.3C462.93 626.22 465.35 626.55 467.8 626.9C470.25 627.25 472.75 628.2 475.2 628.4C477.65 628.6 480.07 628.27 482.5 628.1C484.93 627.93 487.12 628.02 489.8 627.4C492.48 626.78 496.15 624.73 498.6 624.4C501.05 624.07 502.55 624.98 504.5 625.4C506.45 625.82 508.12 626.75 510.3 626.9C512.48 627.05 515.15 626.88 517.6 626.3C520.05 625.72 522.55 624.37 525 623.4C527.45 622.43 529.87 621.38 532.3 620.5C534.73 619.62 536.92 618.92 539.6 618.1C542.28 617.28 545.47 616.25 548.4 615.6C551.33 614.95 554.27 614.75 557.2 614.2C560.13 613.65 563.07 612.97 566 612.3C568.93 611.63 572.12 610.98 574.8 610.2C577.48 609.42 580.4 608.35 582.1 607.6C583.8 606.85 583.3 606.6 585 605.7C586.7 604.8 589.87 603.18 592.3 602.2C594.73 601.22 597.15 600.6 599.6 599.8C602.05 599 604.55 598.25 607 597.4C609.45 596.55 612.1 595.03 614.3 594.7C616.5 594.37 618.25 595.03 620.2 595.4C622.15 595.77 624.05 596.77 626 596.9C627.95 597.03 629.7 597.27 631.9 596.2C634.1 595.13 636.77 591.75 639.2 590.5C641.63 589.25 644.3 589.1 646.5 588.7C648.7 588.3 650.45 588.78 652.4 588.1C654.35 587.42 656.5 585.13 658.2 584.6C659.9 584.07 660.88 585.15 662.6 584.9C664.32 584.65 666.05 584.15 668.5 583.1C670.95 582.05 674.87 580.3 677.3 578.6C679.73 576.9 680.78 574.53 683.1 572.9C685.42 571.27 688.63 569.07 691.2 568.8C693.77 568.53 696.07 571.02 698.5 571.3C700.93 571.58 703.35 570.18 705.8 570.5C708.25 570.82 710.5 573.12 713.2 573.2C715.9 573.28 719.68 571.25 722 571C724.32 570.75 725.28 571.28 727.1 571.7C728.92 572.12 731.12 573.23 732.9 573.5C734.68 573.77 735.68 573.6 737.8 573.3C739.92 573 742.67 571.97 745.6 571.7C748.53 571.43 752.78 571.43 755.4 571.7C758.02 571.97 759.35 572.48 761.3 573.3C763.25 574.12 765 575.82 767.1 576.6C769.2 577.38 771.62 578.17 773.9 578C776.18 577.83 778.68 576.32 780.8 575.6C782.92 574.88 784.65 573.92 786.6 573.7C788.55 573.48 790.22 574.63 792.5 574.3C794.78 573.97 797.7 571.55 800.3 571.7C802.9 571.85 806.15 574.48 808.1 575.2C810.05 575.92 810.2 576.18 812 576C813.8 575.82 815.97 574.27 818.9 574.1C821.83 573.93 826.83 574.58 829.6 575C832.37 575.42 833.38 575.92 835.5 576.6C837.62 577.28 840.03 578.72 842.3 579.1C844.57 579.48 846.65 578.73 849.1 578.9C851.55 579.07 854.38 579.42 857 580.1C859.62 580.78 862.2 582.05 864.8 583C867.4 583.95 870 585.3 872.6 585.8C875.2 586.3 878.12 586.07 880.4 586C882.68 585.93 884.35 585.33 886.3 585.4C888.25 585.47 889.83 585.68 892.1 586.4C894.37 587.12 897.3 588.67 899.9 589.7C902.5 590.73 905.42 592.08 907.7 592.6C909.98 593.12 911.32 592.98 913.6 592.8C915.88 592.62 920.1 591.72 921.4 591.5"/></g>
<g clip-path="url(#c5)"><path fill="none" stroke="#ff0000" stroke-width="1.2" stroke-linejoin="round" stroke-linecap="round" d="M153.7 925.3C155.03 924.65 159.63 922.62 161.7 921.4C163.77 920.18 164.38 918.98 166.1 918C167.82 917.02 169.8 916.47 172 915.5C174.2 914.53 176.62 913.53 179.3 912.2C181.98 910.87 185.67 908.97 188.1 907.5C190.53 906.03 191.47 904.98 193.9 903.4C196.33 901.82 200 899.57 202.7 898C205.4 896.43 207.65 895.47 210.1 894C212.55 892.53 214.72 890.73 217.4 889.2C220.08 887.67 223.27 886.03 226.2 884.8C229.13 883.57 232.08 882.67 235 881.8C237.92 880.93 240.78 880.32 243.7 879.6C246.62 878.88 249.32 878.15 252.5 877.5C255.68 876.85 259.38 876.2 262.8 875.7C266.22 875.2 269.58 874.82 273 874.5C276.42 874.18 280.12 874 283.3 873.8C286.48 873.6 289.17 873.38 292.1 873.3C295.03 873.22 297.98 873.22 300.9 873.3C303.82 873.38 306.68 873.52 309.6 873.8C312.52 874.08 315.22 874.47 318.4 875C321.58 875.53 326.25 876.4 328.7 877C331.15 877.6 330.17 877.87 333.1 878.6C336.03 879.33 342.88 880.62 346.3 881.4C349.72 882.18 350.68 882.42 353.6 883.3C356.52 884.18 360.63 885.72 363.8 886.7C366.97 887.68 369.42 888.25 372.6 889.2C375.78 890.15 379.72 891.38 382.9 892.4C386.08 893.42 388.77 894.45 391.7 895.3C394.63 896.15 397.57 896.68 400.5 897.5C403.43 898.32 406.38 899.2 409.3 900.2C412.22 901.2 415.08 902.42 418 903.5C420.92 904.58 424.1 905.8 426.8 906.7C429.5 907.6 432 908.38 434.2 908.9C436.4 909.42 437.08 909.27 440 909.8C442.92 910.33 447.8 911.38 451.7 912.1C455.6 912.82 459.48 913.45 463.4 914.1C467.32 914.75 471.28 915.25 475.2 916C479.12 916.75 482.68 917.68 486.9 918.6C491.12 919.52 495.3 920.53 500.5 921.5C505.7 922.47 511.9 923.43 518.1 924.4C524.3 925.37 532.48 926.72 537.7 927.3C542.92 927.88 544.52 927.67 549.4 927.9C554.28 928.13 561.47 928.3 567 928.7C572.53 929.1 578.05 929.93 582.6 930.3C587.15 930.67 590.4 931 594.3 930.9C598.2 930.8 601.45 930.55 606 929.7C610.55 928.85 617.6 927.12 621.6 925.8C625.6 924.48 627.62 923.1 630 921.8C632.38 920.5 633.7 919.22 635.9 918C638.1 916.78 640.52 916.25 643.2 914.5C645.88 912.75 649.07 909.77 652 907.5C654.93 905.23 658.12 903.05 660.8 900.9C663.48 898.75 665.92 896.43 668.1 894.6C670.28 892.77 671.47 891.42 673.9 889.9C676.33 888.38 679.77 886.8 682.7 885.5C685.63 884.2 688.82 883.2 691.5 882.1C694.18 881 696.12 879.92 698.8 878.9C701.48 877.88 704.67 876.8 707.6 876C710.53 875.2 713.47 874.58 716.4 874.1C719.33 873.62 722.27 873.4 725.2 873.1C728.13 872.8 731.07 872.3 734 872.3C736.93 872.3 739.87 872.68 742.8 873.1C745.73 873.52 748.92 874.15 751.6 874.8C754.28 875.45 756.7 876.32 758.9 877C761.1 877.68 762.35 877.83 764.8 878.9C767.25 879.97 770.65 881.97 773.6 883.4C776.55 884.83 779.2 886.17 782.5 887.5C785.8 888.83 789.75 890.1 793.4 891.4C797.05 892.7 800.75 894.05 804.4 895.3C808.05 896.55 811.65 897.83 815.3 898.9C818.95 899.97 822.65 900.78 826.3 901.7C829.95 902.62 833.57 903.43 837.2 904.4C840.83 905.37 844.45 906.42 848.1 907.5C851.75 908.58 855.45 909.8 859.1 910.9C862.75 912 866.62 913.37 870 914.1C873.38 914.83 876.27 914.88 879.4 915.3C882.53 915.72 885.68 916.02 888.8 916.6C891.92 917.18 894.98 917.97 898.1 918.8C901.22 919.63 903.62 920.65 907.5 921.6C911.38 922.55 919.08 924.02 921.4 924.5"/><path fill="none" stroke="#0000ff" stroke-width="1.2" stroke-linejoin="round" stroke-linecap="round" d="M153.9 942.7C155.2 942.8 158.77 943.13 161.7 943.3C164.63 943.47 169.05 943.42 171.5 943.7C173.95 943.98 174.12 944.78 176.4 945C178.68 945.22 182.12 945.12 185.2 945C188.28 944.88 192.13 944.2 194.9 944.3C197.67 944.4 198.87 945.7 201.8 945.6C204.73 945.5 209.9 943.77 212.5 943.7C215.1 943.63 215.62 945.1 217.4 945.2C219.18 945.3 220.77 944.17 223.2 944.3C225.63 944.43 228.25 945.38 232 946C235.75 946.62 241.13 947.8 245.7 948C250.27 948.2 254.52 947.5 259.4 947.2C264.28 946.9 269.8 946.4 275 946.2C280.2 946 285.72 945.83 290.6 946C295.48 946.17 299.73 946.72 304.3 947.2C308.87 947.68 313.77 948.45 318 948.9C322.23 949.35 325.8 949.8 329.7 949.9C333.6 950 337.73 949.72 341.4 949.5C345.07 949.28 348.18 948.92 351.7 948.6C355.22 948.28 359.57 947.6 362.5 947.6C365.43 947.6 366.53 947.88 369.3 948.6C372.07 949.32 375.85 950.67 379.1 951.9C382.35 953.13 385.55 954.93 388.8 956C392.05 957.07 395.02 957.58 398.6 958.3C402.18 959.02 406.4 959.75 410.3 960.3C414.2 960.85 417.77 961.5 422 961.6C426.23 961.7 431.47 960.9 435.7 960.9C439.93 960.9 443.17 961.15 447.4 961.6C451.63 962.05 456.87 963.1 461.1 963.6C465.33 964.1 469.22 964.33 472.8 964.6C476.38 964.87 478.68 964.95 482.6 965.2C486.52 965.45 492.72 965.85 496.3 966.1C499.88 966.35 500.85 966.6 504.1 966.7C507.35 966.8 511.9 966.57 515.8 966.7C519.7 966.83 524.25 967.27 527.5 967.5C530.75 967.73 532.28 968.03 535.3 968.1C538.32 968.17 541.27 967.97 545.6 967.9C549.93 967.83 555.43 967.68 561.3 967.7C567.17 967.72 574.95 967.95 580.8 968C586.65 968.05 591.85 967.83 596.4 968C600.95 968.17 604.52 968.7 608.1 969C611.68 969.3 614.63 969.67 617.9 969.8C621.17 969.93 624.12 969.97 627.7 969.8C631.28 969.63 635.18 969.18 639.4 968.8C643.62 968.42 648.45 968.05 653 967.5C657.55 966.95 663.12 965.83 666.7 965.5C670.28 965.17 671.23 965.2 674.5 965.5C677.77 965.8 682.72 967.2 686.3 967.3C689.88 967.4 692.75 966.57 696 966.1C699.25 965.63 702.22 965.08 705.8 964.5C709.38 963.92 713.08 963.18 717.5 962.6C721.92 962.02 727.78 961.3 732.3 961C736.82 960.7 740.5 961.07 744.6 960.8C748.7 960.53 752.8 959.75 756.9 959.4C761 959.05 765.43 958.53 769.2 958.7C772.97 958.87 775.73 959.68 779.5 960.4C783.27 961.12 787.37 962.15 791.8 963C796.23 963.85 801.32 964.85 806.1 965.5C810.88 966.15 816.4 967.07 820.5 966.9C824.6 966.73 826.93 965.42 830.7 964.5C834.47 963.58 838.65 962.08 843.1 961.4C847.55 960.72 852.97 960.7 857.4 960.4C861.83 960.1 866.28 959.7 869.7 959.6C873.12 959.5 874.82 959.5 877.9 959.8C880.98 960.1 884.43 961.03 888.2 961.4C891.97 961.77 896.75 961.83 900.5 962C904.25 962.17 907.22 962.22 910.7 962.4C914.18 962.58 919.62 962.98 921.4 963.1"/></g>
</svg>
</body></html>
